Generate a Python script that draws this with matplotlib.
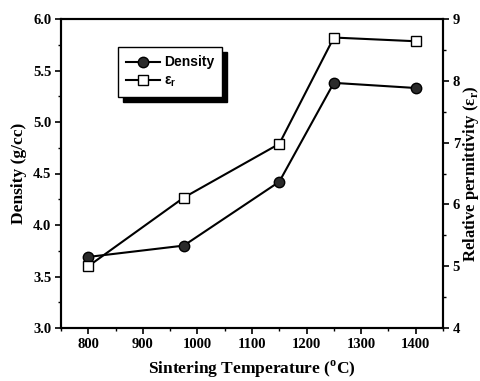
import matplotlib
matplotlib.use("Agg")
import matplotlib.pyplot as plt
from matplotlib.ticker import MultipleLocator
from matplotlib.patches import Rectangle
from matplotlib.transforms import IdentityTransform

temps = [800, 975, 1150, 1250, 1400]
density = [3.69, 3.80, 4.42, 5.38, 5.33]
permittivity = [5.0, 6.11, 6.98, 8.70, 8.64]

serif = "Liberation Serif"
sans = "Liberation Sans"

fig = plt.figure(figsize=(4.81, 3.81), dpi=100)
ax = fig.add_axes([61/481, 1 - 328/381, (443-61)/481, (328-19)/381])
ax2 = ax.twinx()

l1, = ax.plot(temps, density, '-', color='black', lw=1.5, marker='o', ms=7.5,
              mfc='#2a2a2a', mec='black', mew=1, label='Density', zorder=3)
l2, = ax2.plot(temps, permittivity, '-', color='black', lw=1.5, marker='s', ms=6.5,
               mfc='white', mec='black', mew=1, label='ε$_\\mathregular{r}$', zorder=3)

ax.set_xlim(750, 1450)
ax.set_ylim(3.0, 6.0)
ax2.set_ylim(4, 9)
ax.xaxis.set_major_locator(MultipleLocator(100))
ax.xaxis.set_minor_locator(MultipleLocator(50))
ax.yaxis.set_major_locator(MultipleLocator(0.5))
ax.yaxis.set_minor_locator(MultipleLocator(0.25))
ax2.yaxis.set_major_locator(MultipleLocator(1))
ax2.yaxis.set_minor_locator(MultipleLocator(0.5))

for a in (ax, ax2):
    for s in a.spines.values():
        s.set_linewidth(1.5)
    a.tick_params(which='major', direction='out', length=4, width=1.2, pad=3)
    a.tick_params(which='minor', direction='out', length=2.5, width=1)
    for lab in a.get_xticklabels() + a.get_yticklabels():
        lab.set_fontfamily(serif)
        lab.set_fontweight('bold')
        lab.set_fontsize(10.5)

ax.set_xlabel('Sintering Temperature ($^\\mathregular{o}$C)', fontfamily=serif,
              fontweight='bold', fontsize=12.5, labelpad=6)
ax.set_ylabel('Density (g/cc)', fontfamily=serif, fontweight='bold', fontsize=12.5, labelpad=4)
ax2.set_ylabel('Relative permittivity (ε$_\\mathregular{r}$)', fontfamily=serif,
               fontweight='bold', fontsize=12, labelpad=1)

leg = ax2.legend(handles=[l1, l2], loc='upper left', bbox_to_anchor=(0.149, 0.909),
                 borderaxespad=0,
                 prop={'family': sans, 'weight': 'bold', 'size': 10},
                 frameon=True, fancybox=False, edgecolor='black',
                 handlelength=2.4, handletextpad=0.3, borderpad=0.6, labelspacing=0.3)
leg.get_frame().set_linewidth(1)
leg.get_frame().set_alpha(1)
leg.set_zorder(6)

fig.canvas.draw()
bb = leg.get_frame().get_window_extent()
shadow = Rectangle((bb.x0 + 5, bb.y0 - 5), bb.width, bb.height, transform=IdentityTransform(),
                   facecolor='black', edgecolor='black', zorder=5.5, clip_on=False)
ax2.add_artist(shadow)

fig.savefig('out.png', dpi=100)
